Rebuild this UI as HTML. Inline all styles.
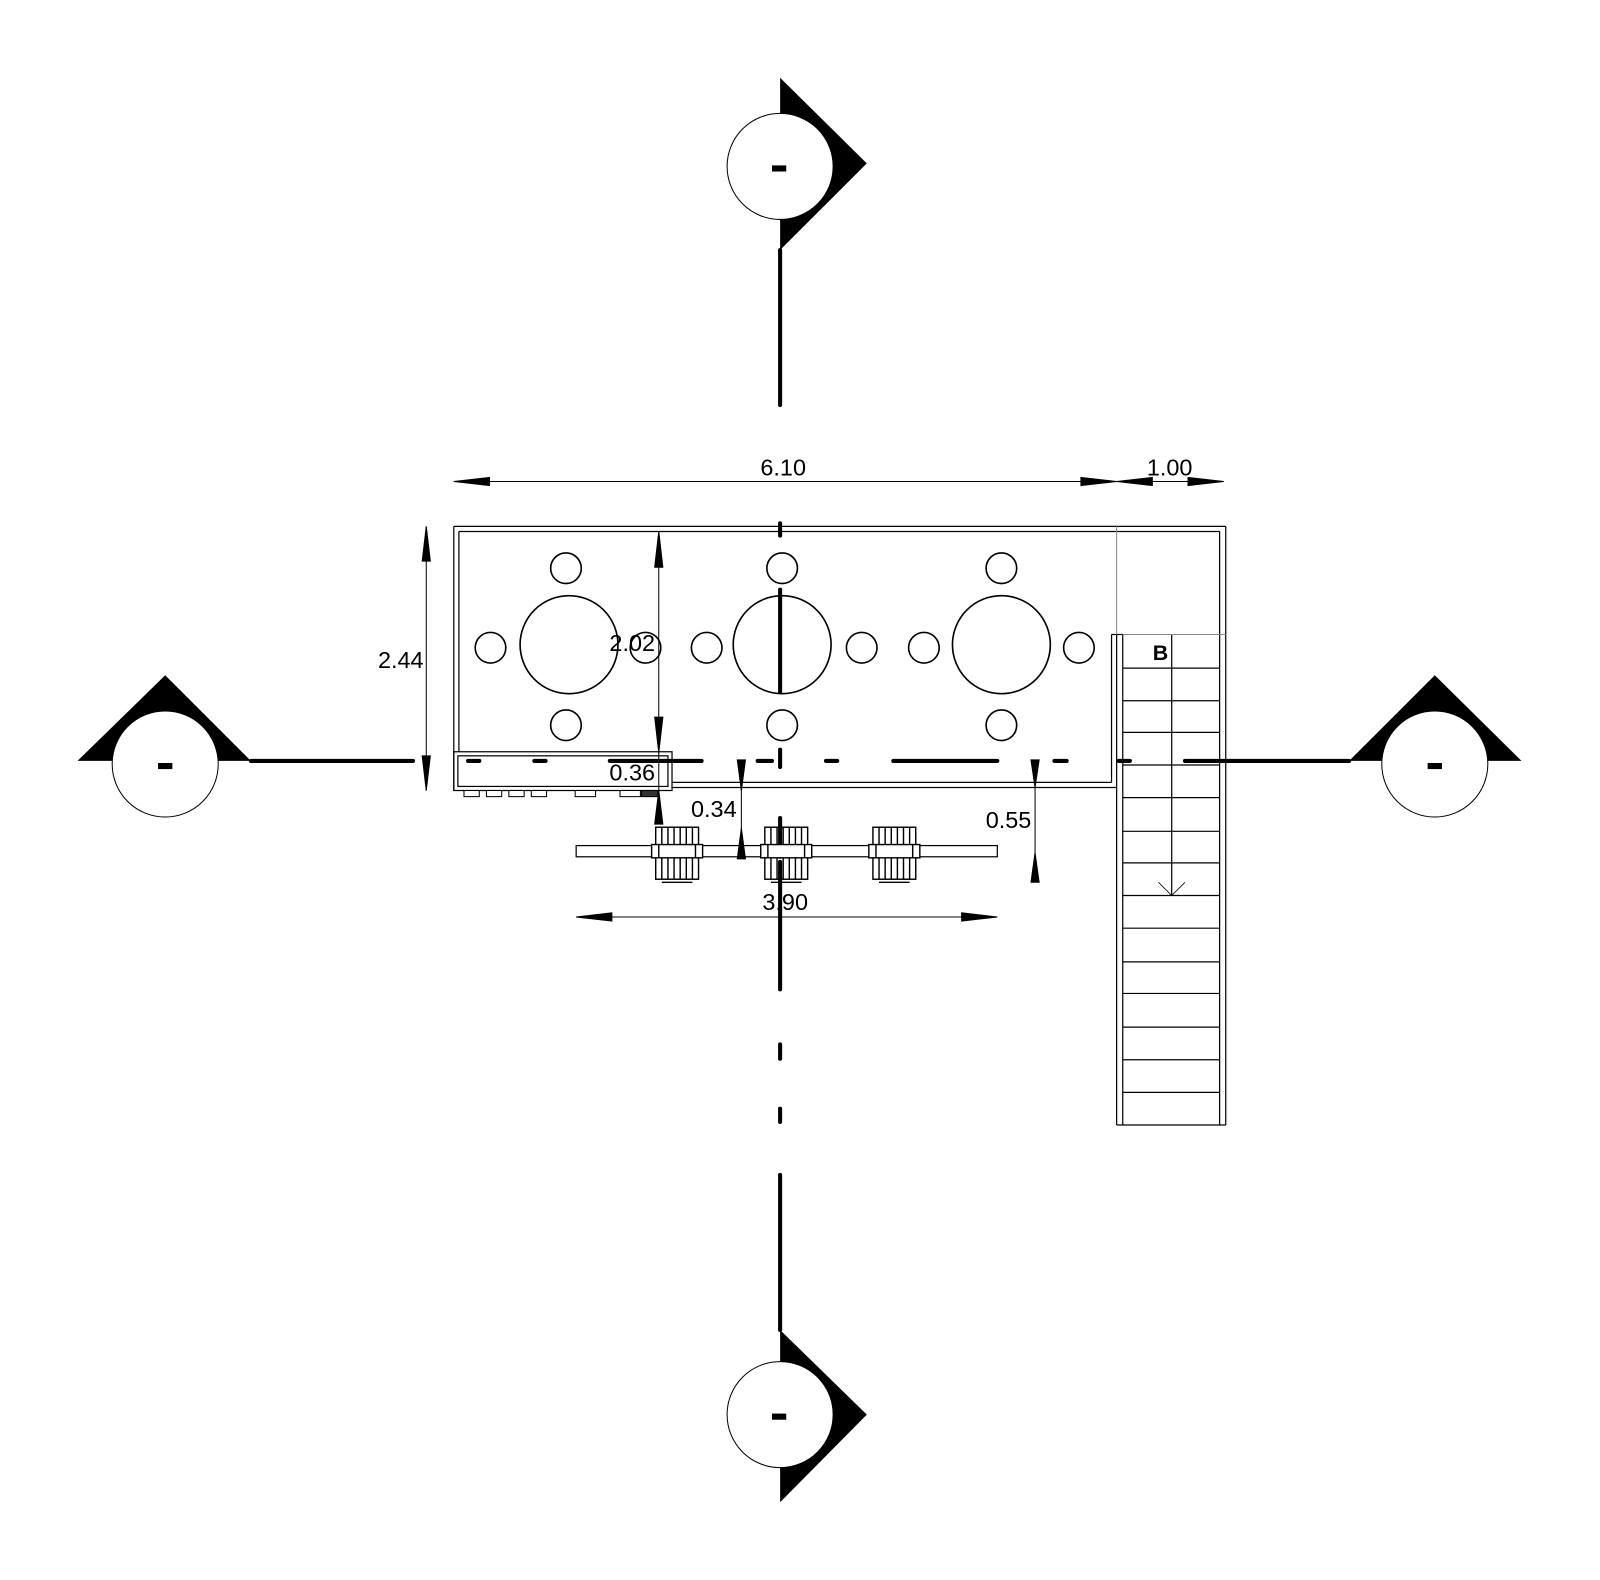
<!DOCTYPE html>
<html><head><meta charset="utf-8"><style>html,body{margin:0;padding:0;background:#fff}svg{display:block}</style></head>
<body>
<svg width="1600" height="1580" viewBox="0 0 1569 1549" xmlns="http://www.w3.org/2000/svg" font-family="Liberation Sans, sans-serif">
<rect width="1569" height="1549" fill="#fff"/>
<g fill="#000">
  <polygon points="765,76 850,160 765,245"/>
  <circle cx="765" cy="163" r="52" fill="#fff" stroke="#000" stroke-width="1"/>
  <rect x="757" y="162" width="14" height="6"/>
  <polygon points="765,1304 850,1387 765,1473"/>
  <circle cx="765" cy="1387" r="52" fill="#fff" stroke="#000" stroke-width="1"/>
  <rect x="757" y="1386" width="14" height="6"/>
  <polygon points="76,746 162,662 246,746"/>
  <circle cx="162" cy="749" r="52" fill="#fff" stroke="#000" stroke-width="1"/>
  <rect x="155" y="748" width="14" height="6"/>
  <polygon points="1323,746 1407,662 1492,746"/>
  <circle cx="1407" cy="749" r="52" fill="#fff" stroke="#000" stroke-width="1"/>
  <rect x="1400" y="748" width="14" height="6"/>
</g>
<g stroke="#000" stroke-width="4" stroke-linecap="round">
  <line x1="765" y1="245" x2="765" y2="397"/>
  <line x1="765" y1="513" x2="765" y2="525"/>
  <line x1="765" y1="578" x2="765" y2="678"/>
  <line x1="765" y1="735" x2="765" y2="752"/>
  <line x1="765" y1="802" x2="765" y2="840"/>
  <line x1="765" y1="845" x2="765" y2="970"/>
  <line x1="765" y1="1024" x2="765" y2="1038"/>
  <line x1="765" y1="1087" x2="765" y2="1100"/>
  <line x1="765" y1="1152" x2="765" y2="1304"/>
  <line x1="246" y1="746" x2="405" y2="746"/>
  <line x1="459" y1="746" x2="470" y2="746"/>
  <line x1="524" y1="746" x2="535" y2="746"/>
  <line x1="598" y1="746" x2="688" y2="746"/>
  <line x1="743" y1="746" x2="757" y2="746"/>
  <line x1="810" y1="746" x2="821" y2="746"/>
  <line x1="876" y1="746" x2="978" y2="746"/>
  <line x1="1034" y1="746" x2="1046" y2="746"/>
  <line x1="1097" y1="746" x2="1108" y2="746"/>
  <line x1="1162" y1="746" x2="1323" y2="746"/>
</g>
<g fill="none" stroke="#000" stroke-width="1.2">
  <line x1="445" y1="516" x2="1202" y2="516"/>
  <line x1="450" y1="521" x2="1196" y2="521"/>
  <line x1="445" y1="516" x2="445" y2="775"/>
  <line x1="450" y1="521" x2="450" y2="737"/>
  <line x1="1202" y1="516" x2="1202" y2="1103"/>
  <line x1="1196" y1="521" x2="1196" y2="1103"/>
  <line x1="659" y1="767" x2="1090" y2="767"/>
  <line x1="659" y1="772" x2="1095" y2="772"/>
  <line x1="1090" y1="622" x2="1090" y2="767"/>
  <line x1="1095" y1="622" x2="1095" y2="1103"/>
  <line x1="1101" y1="622" x2="1101" y2="1103"/>
  <line x1="1090" y1="622" x2="1101" y2="622"/>
  <line x1="1095" y1="1103" x2="1202" y2="1103"/>
  <line x1="1149" y1="622" x2="1149" y2="878"/>
  <polyline points="1136,865 1149,878 1162,865" stroke-width="0.8"/>
</g>
<line x1="1095" y1="516" x2="1095" y2="622" stroke="#888" stroke-width="1"/>
<line x1="1101" y1="622" x2="1202" y2="622" stroke="#888" stroke-width="1"/>
<g stroke="#000" stroke-width="1.2">
  <line x1="1101" y1="655" x2="1196" y2="655"/>
  <line x1="1101" y1="687" x2="1196" y2="687"/>
  <line x1="1101" y1="718" x2="1196" y2="718"/>
  <line x1="1101" y1="750" x2="1196" y2="750"/>
  <line x1="1101" y1="782" x2="1196" y2="782"/>
  <line x1="1101" y1="815" x2="1196" y2="815"/>
  <line x1="1101" y1="846" x2="1196" y2="846"/>
  <line x1="1101" y1="878" x2="1196" y2="878"/>
  <line x1="1101" y1="910" x2="1196" y2="910"/>
  <line x1="1101" y1="943" x2="1196" y2="943"/>
  <line x1="1101" y1="974" x2="1196" y2="974"/>
  <line x1="1101" y1="1007" x2="1196" y2="1007"/>
  <line x1="1101" y1="1039" x2="1196" y2="1039"/>
  <line x1="1101" y1="1071" x2="1196" y2="1071"/>
</g>
<text x="1138" y="647" font-size="21" font-weight="bold" text-anchor="middle">B</text>
<g fill="none" stroke="#000" stroke-width="1.6">
  <circle cx="558" cy="632" r="48"/>
  <circle cx="767" cy="632" r="48"/>
  <circle cx="982" cy="632" r="48"/>
  <circle cx="555" cy="557" r="15"/><circle cx="555" cy="711" r="15"/><circle cx="481" cy="635" r="15"/><circle cx="633" cy="635" r="15"/>
  <circle cx="767" cy="557" r="15"/><circle cx="767" cy="711" r="15"/><circle cx="693" cy="635" r="15"/><circle cx="845" cy="635" r="15"/>
  <circle cx="982" cy="557" r="15"/><circle cx="982" cy="711" r="15"/><circle cx="906" cy="635" r="15"/><circle cx="1058" cy="635" r="15"/>
</g>
<g fill="none" stroke="#000" stroke-width="1.2">
  <rect x="445" y="737" width="214" height="38"/>
  <rect x="449" y="741" width="206" height="30"/>
</g>
<g fill="#fff" stroke="#000" stroke-width="1">
  <rect x="455" y="775" width="15" height="6"/><rect x="477" y="775" width="15" height="6"/><rect x="499" y="775" width="15" height="6"/><rect x="521" y="775" width="15" height="6"/>
  <rect x="564" y="775" width="20" height="6"/><rect x="608" y="775" width="20" height="6"/><rect x="629" y="775" width="16" height="6" fill="#333"/>
</g>
<rect x="565" y="829" width="413" height="11" fill="#fff" stroke="#000" stroke-width="1.2"/>
<g fill="none" stroke="#000" stroke-width="1.4">
  <g id="c1">
    <rect x="643" y="811" width="42" height="51"/>
    <line x1="649" y1="811" x2="649" y2="862"/><line x1="655" y1="811" x2="655" y2="862"/><line x1="661" y1="811" x2="661" y2="862"/><line x1="667" y1="811" x2="667" y2="862"/><line x1="673" y1="811" x2="673" y2="862"/><line x1="679" y1="811" x2="679" y2="862"/>
    <rect x="639" y="828" width="50" height="13" fill="#fff"/>
    <line x1="646" y1="828" x2="646" y2="841"/><line x1="682" y1="828" x2="682" y2="841"/>
    <line x1="649" y1="865" x2="679" y2="865"/>
  </g>
  <use href="#c1" x="107"/>
  <use href="#c1" x="213"/>
</g>
<g stroke="#000" stroke-width="1" fill="#000">
  <line x1="445" y1="472" x2="1200" y2="472"/>
  <polygon points="445,472 480,468 480,476"/><polygon points="1095,472 1060,468 1060,476"/>
  <polygon points="1095,472 1130,468 1130,476"/><polygon points="1200,472 1165,468 1165,476"/>
  <line x1="418" y1="516" x2="418" y2="775"/>
  <polygon points="418,516 414,550 422,550"/><polygon points="418,775 414,741 422,741"/>
  <line x1="646" y1="521" x2="646" y2="808"/>
  <polygon points="646,521 642,556 650,556"/><polygon points="646,738 642,703 650,703"/>
  <polygon points="646,775 642,808 650,808"/>
  <line x1="727" y1="745" x2="727" y2="842"/>
  <polygon points="727,775 723,745 731,745"/><polygon points="727,812 723,842 731,842"/>
  <line x1="1015" y1="745" x2="1015" y2="865"/>
  <polygon points="1015,772 1011,745 1019,745"/><polygon points="1015,836 1011,865 1019,865"/>
  <line x1="565" y1="899" x2="978" y2="899"/>
  <polygon points="565,899 600,895 600,903"/><polygon points="978,899 943,895 943,903"/>
</g>
<g font-size="23" fill="#000" text-anchor="middle">
  <text x="768" y="466">6.10</text>
  <text x="1147" y="466">1.00</text>
  <text x="393" y="655">2.44</text>
  <text x="620" y="638">2.02</text>
  <text x="620" y="765">0.36</text>
  <text x="700" y="801">0.34</text>
  <text x="989" y="812">0.55</text>
  <text x="770" y="892">3.90</text>
</g>
</svg>
</body></html>
